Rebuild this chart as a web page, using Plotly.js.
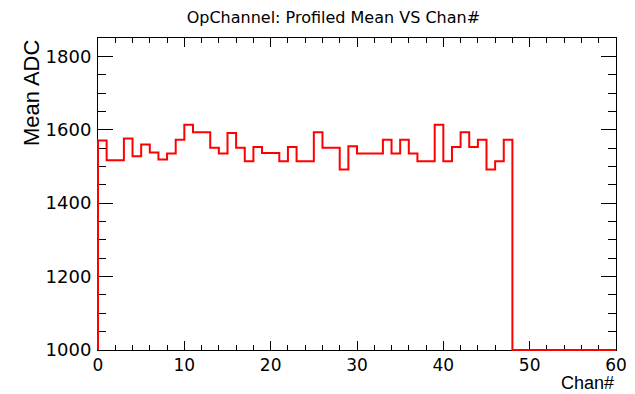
<!DOCTYPE html>
<html>
<head>
<meta charset="utf-8">
<script src="https://cdn.plot.ly/plotly-3.0.1.min.js"></script>
<style>html,body{margin:0;padding:0;background:#fff;}#chart{width:635px;height:394px;}</style>
</head>
<body>
<div id="chart"></div>
<script>
// Bin edges 0..60, one bin per channel
const binLow = 0;
const binWidth = 1;
const nBins = 60;
// Profiled mean ADC per channel (channels 48-59 empty)
const meanADC = [
  1571, 1517, 1517, 1576, 1528, 1560, 1538, 1519, 1535, 1573,
  1614, 1593, 1593, 1551, 1535, 1591, 1551, 1514, 1553, 1537,
  1537, 1514, 1553, 1514, 1514, 1593, 1551, 1551, 1492, 1555,
  1535, 1535, 1535, 1573, 1535, 1573, 1535, 1514, 1514, 1614,
  1514, 1553, 1593, 1553, 1573, 1492, 1514, 1573, 0, 0,
  0, 0, 0, 0, 0, 0, 0, 0, 0, 0
];
const yRange = [1000, 1850];
const xRange = [0, 60];
const xTickVals = [0, 10, 20, 30, 40, 50, 60];
const yTickVals = [1000, 1200, 1400, 1600, 1800];

// Build step outline (ROOT-style histogram), starting from the frame bottom
const xs = [binLow];
const ys = [yRange[0]];
for (let i = 0; i < nBins; i++) {
  xs.push(binLow + i * binWidth);
  ys.push(Math.max(meanADC[i], yRange[0]));
}
xs.push(binLow + nBins * binWidth);
ys.push(Math.max(meanADC[nBins - 1], yRange[0]));

const trace = {
  x: xs, y: ys, type: 'scatter', mode: 'lines',
  line: {shape: 'hv', color: '#ff0000', width: 2},
  hoverinfo: 'skip', showlegend: false
};

const font = 'Liberation Sans, Arial, Helvetica, sans-serif';
const wide = 'DejaVu Sans, Liberation Sans, sans-serif';
const layout = {
  width: 635, height: 394,
  margin: {l: 98, r: 19, t: 38, b: 44},
  paper_bgcolor: '#fff', plot_bgcolor: '#fff',
  font: {family: font, color: '#000'},
  title: {text: 'OpChannel: Profiled Mean VS Chan#', font: {size: 16, family: wide, color: '#000'},
          xref: 'container', x: 0.525, xanchor: 'center', yref: 'container', y: 0.955, yanchor: 'middle'},
  xaxis: {
    range: xRange, tickvals: xTickVals, ticks: 'inside', ticklen: 9, tickwidth: 1, tickcolor: '#000',
    showline: true, linecolor: '#000', linewidth: 1, mirror: 'ticks', layer: 'below traces',
    showgrid: false, zeroline: false, tickfont: {size: 17, family: wide},
    minor: {dtick: 2, tick0: 0, ticks: 'inside', ticklen: 5, tickcolor: '#000', tickwidth: 1, showgrid: false},
    fixedrange: true
  },
  yaxis: {
    range: yRange, tickvals: yTickVals, ticks: 'inside', ticklen: 15, tickwidth: 1, tickcolor: '#000',
    showline: true, linecolor: '#000', linewidth: 1, mirror: 'ticks', layer: 'below traces',
    showgrid: false, zeroline: false, tickfont: {size: 18, family: wide}, ticklabelstandoff: 2,
    minor: {dtick: 50, tick0: 1000, ticks: 'inside', ticklen: 8, tickcolor: '#000', tickwidth: 1, showgrid: false},
    fixedrange: true
  },
  annotations: [
    {text: 'Chan#', xref: 'paper', yref: 'paper', x: 1, y: -0.107, xanchor: 'right', yanchor: 'middle',
     showarrow: false, font: {size: 18, family: font, color: '#000'}},
    {text: 'Mean ADC', xref: 'paper', yref: 'paper', x: -0.1293, y: 1, xanchor: 'center', yanchor: 'top',
     textangle: -90, showarrow: false, font: {size: 22, family: font, color: '#000'}}
  ]
};

Plotly.newPlot('chart', [trace], layout, {staticPlot: true, displayModeBar: false}).then(function (gd) {
  // Let the outline sit on the frame edges like ROOT does (no clipping at the frame)
  gd.querySelectorAll('.cartesianlayer [clip-path], .cartesianlayer [style*="clip-path"]').forEach(function (el) {
    el.removeAttribute('clip-path');
    el.style.clipPath = '';
  });
});
</script>
</body>
</html>
